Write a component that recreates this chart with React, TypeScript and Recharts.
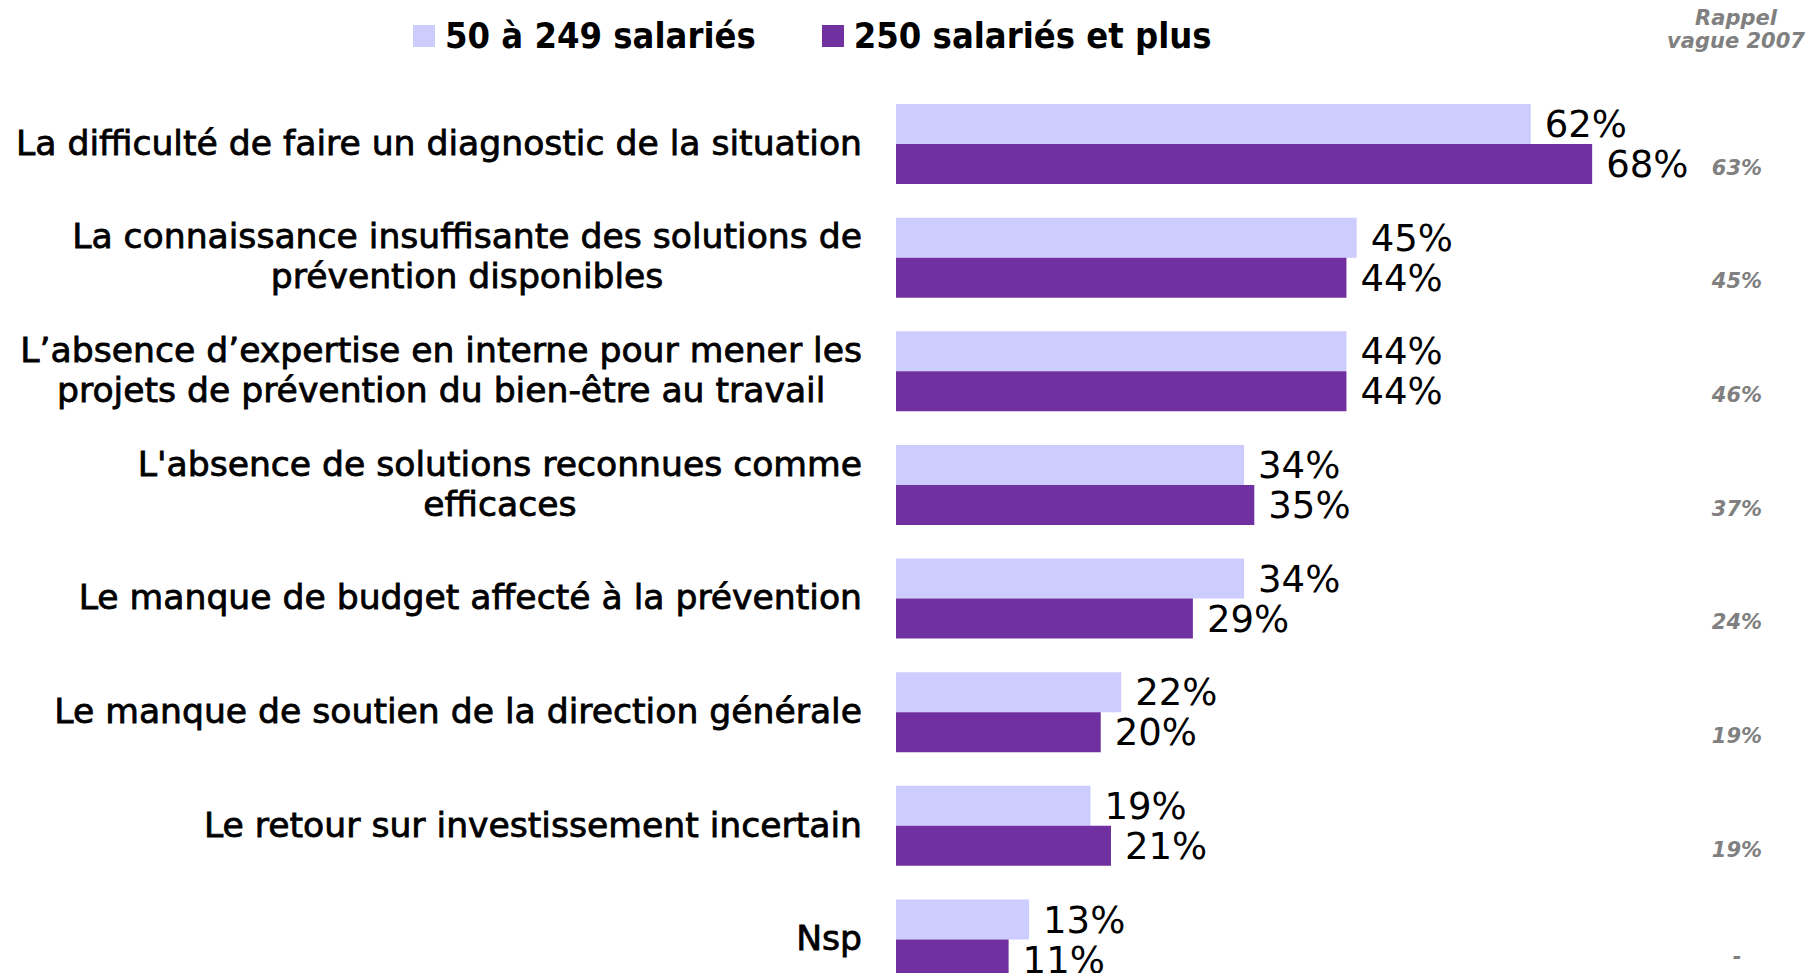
import React from 'react';
import { BarChart, Bar, XAxis, YAxis, LabelList } from 'recharts';

const categories = [
  'La difficulté de faire un diagnostic de la situation',
  'La connaissance insuffisante des solutions de\nprévention disponibles',
  'L’absence d’expertise en interne pour mener les\nprojets de prévention du bien-être au travail',
  "L'absence de solutions reconnues comme\nefficaces",
  'Le manque de budget affecté à la prévention',
  'Le manque de soutien de la direction générale',
  'Le retour sur investissement incertain',
  'Nsp',
];
const small = [62, 45, 44, 34, 34, 22, 19, 13];
const large = [68, 44, 44, 35, 29, 20, 21, 11];
const wave2007: (number | null)[] = [63, 45, 46, 37, 24, 19, 19, null];

const seriesNames = ['50 à 249 salariés', '250 salariés et plus'];
const colors = ['#CCCCFF', '#7030A0'];

const data = categories.map((category, i) => ({
  category,
  small: small[i],
  large: large[i],
  w2007: wave2007[i],
}));

const FONT = '"DejaVu Sans", Verdana, sans-serif';
const COND = '"DejaVu Sans Condensed", "DejaVu Sans", sans-serif';

let ctx: CanvasRenderingContext2D | null = null;
const measure = (s: string, font: string) => {
  if (!ctx) ctx = document.createElement('canvas').getContext('2d');
  if (!ctx) return s.length * 16;
  ctx.font = font;
  return ctx.measureText(s).width;
};

// category labels: lines centred on each other, block right-aligned
const CategoryTick = (props: any) => {
  const { x, y, payload } = props;
  const lines = String(payload.value).split('\n');
  const size = 34.6;
  const font = `${size}px ${FONT}`;
  const maxW = Math.max(...lines.map((l) => measure(l, font)));
  const right = x - 34;
  const lh = 40;
  const first = y + 11 - ((lines.length - 1) * lh) / 2;
  return (
    <g>
      {lines.map((l, i) => (
        <text
          key={i}
          x={right - maxW / 2}
          y={first + i * lh}
          textAnchor="middle"
          fontFamily={FONT}
          fontSize={size}
          fill="#000"
          stroke="#000"
          strokeWidth={0.8}
        >
          {l}
        </text>
      ))}
    </g>
  );
};

// 2007 recall column, next to the dark bar
const RecallTick = (props: any) => {
  const { x, y, index } = props;
  const v = wave2007[index];
  return (
    <text
      x={x + 22}
      y={v == null ? y + 25 : y + 31}
      textAnchor="middle"
      fontFamily={FONT}
      fontSize={21}
      fontWeight="bold"
      fontStyle="italic"
      fill="#808080"
    >
      {v == null ? '-' : `${v}%`}
    </text>
  );
};

const App = () => {
  return (
    <div style={{ position: 'fixed', top: 0, left: 0, width: 1809, height: 973, overflow: 'hidden', background: '#fff' }}>
      {/* legend */}
      <div style={{ position: 'absolute', top: 15, left: 413, display: 'flex', alignItems: 'center', fontFamily: COND, fontWeight: 'bold', fontSize: 36 }}>
        {seriesNames.map((name, i) => (
          <div key={name} style={{ display: 'flex', alignItems: 'center', marginRight: 66 }}>
            <span style={{ display: 'inline-block', width: 22, height: 22, background: colors[i], marginRight: 10 }} />
            <span>{name}</span>
          </div>
        ))}
      </div>
      <div style={{ position: 'absolute', top: 7, left: 1636, width: 200, textAlign: 'center', fontFamily: FONT, fontWeight: 'bold', fontStyle: 'italic', fontSize: 21, lineHeight: '23px', color: '#808080' }}>
        Rappel
        <br />
        vague 2007
      </div>
      <div style={{ position: 'absolute', top: 0, left: 0 }}>
        <BarChart
          layout="vertical"
          width={1809}
          height={996}
          data={data}
          margin={{ top: 87, right: 0, bottom: 0, left: 0 }}
          barCategoryGap={17}
          barGap={0}
        >
          <XAxis type="number" domain={[0, 80]} hide />
          <YAxis
            yAxisId="left"
            type="category"
            dataKey="category"
            width={896}
            axisLine={false}
            tickLine={false}
            tickSize={0}
            tickMargin={0}
            interval={0}
            tick={<CategoryTick />}
          />
          <YAxis
            yAxisId="right"
            orientation="right"
            type="category"
            dataKey="category"
            width={94}
            axisLine={false}
            tickLine={false}
            tickSize={0}
            tickMargin={0}
            interval={0}
            tick={<RecallTick />}
          />
          <Bar yAxisId="left" dataKey="small" name={seriesNames[0]} fill={colors[0]} isAnimationActive={false}>
            <LabelList dataKey="small" position="right" offset={14} formatter={(v: any) => `${v}%`} fill="#000" fontSize={37} fontFamily={FONT} />
          </Bar>
          <Bar yAxisId="left" dataKey="large" name={seriesNames[1]} fill={colors[1]} isAnimationActive={false}>
            <LabelList dataKey="large" position="right" offset={14} formatter={(v: any) => `${v}%`} fill="#000" fontSize={37} fontFamily={FONT} />
          </Bar>
        </BarChart>
      </div>
    </div>
  );
};

export default App;
